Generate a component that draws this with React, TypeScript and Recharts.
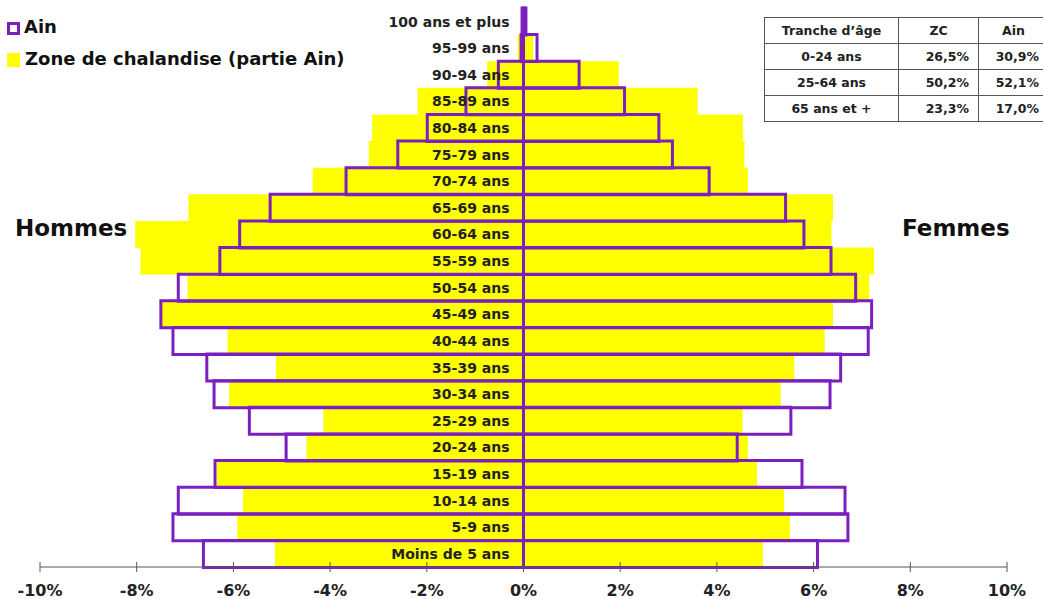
import React from 'react';
import { BarChart, Bar, XAxis, YAxis, LabelList } from 'recharts';

const ages = ['100 ans et plus', '95-99 ans', '90-94 ans', '85-89 ans', '80-84 ans', '75-79 ans', '70-74 ans', '65-69 ans', '60-64 ans', '55-59 ans', '50-54 ans', '45-49 ans', '40-44 ans', '35-39 ans', '30-34 ans', '25-29 ans', '20-24 ans', '15-19 ans', '10-14 ans', '5-9 ans', 'Moins de 5 ans'];
const zcMen = [0.03, 0.12, 0.75, 2.19, 3.13, 3.2, 4.36, 6.93, 8.03, 7.92, 6.95, 7.48, 6.12, 5.12, 6.09, 4.14, 4.49, 6.34, 5.8, 5.92, 5.14];
const zcWomen = [0.05, 0.2, 1.97, 3.6, 4.54, 4.57, 4.64, 6.4, 6.37, 7.25, 7.15, 6.4, 6.23, 5.6, 5.32, 4.53, 4.64, 4.83, 5.39, 5.51, 4.95];
const ainMen = [0.03, 0.05, 0.52, 1.19, 1.99, 2.6, 3.67, 5.24, 5.87, 6.28, 7.14, 7.5, 7.25, 6.55, 6.4, 5.67, 4.91, 6.38, 7.14, 7.25, 6.62];
const ainWomen = [0.05, 0.28, 1.15, 2.09, 2.8, 3.08, 3.84, 5.42, 5.8, 6.36, 6.87, 7.2, 7.13, 6.56, 6.34, 5.53, 4.42, 5.76, 6.65, 6.71, 6.08];
const xTicks = [-10, -8, -6, -4, -2, 0, 2, 4, 6, 8, 10];

const tableHeader = ['Tranche d\u2019âge', 'ZC', 'Ain'];
const tableGroups = ['0-24 ans', '25-64 ans', '65 ans et +'];
const tableZC = ['26,5%', '50,2%', '23,3%'];
const tableAin = ['30,9%', '52,1%', '17,0%'];

const data = ages.map((age, i) => ({
  age,
  zcM: -zcMen[i],
  zcF: zcWomen[i],
  ainM: -ainMen[i],
  ainF: ainWomen[i],
}));

const FONT = '"DejaVu Sans", Verdana, sans-serif';
const PURPLE = '#7b1fbe';
const YELLOW = '#ffff00';

const AxisTick = (props: any) => {
  const { x, y, payload } = props;
  return (
    <g>
      <line x1={x} x2={x} y1={y - 5} y2={y + 5} stroke="#555" strokeWidth={1} />
      <text x={x} y={y + 29} textAnchor="middle" fontFamily={FONT} fontWeight="bold" fontSize={16} fill="#222">
        {`${payload.value}%`}
      </text>
    </g>
  );
};

const AgeLabel = (props: any) => {
  const { x, y, height, value } = props;
  return (
    <text x={x - 14} y={y + height / 2} dy="0.36em" textAnchor="end" fontFamily={FONT} fontWeight="bold" fontSize={14} fill="#222">
      {value}
    </text>
  );
};

const cellBase: React.CSSProperties = {
  border: '1px solid #555',
  height: 25,
  padding: 0,
  fontFamily: FONT,
  fontWeight: 'bold',
  fontSize: 12.5,
  color: '#222',
};

export default function App() {
  return (
    <div style={{ position: 'absolute', left: 0, top: 0, width: 1043, height: 599, background: '#fff', overflow: 'hidden' }}>
      <BarChart
        width={1043}
        height={599}
        data={data}
        layout="vertical"
        stackOffset="sign"
        barCategoryGap={0}
        barGap={0}
        margin={{ top: 8, right: 36, bottom: 2, left: 40 }}
      >
        <XAxis
          type="number"
          domain={[-10, 10]}
          ticks={xTicks}
          allowDataOverflow
          height={30}
          tickSize={0}
          tickMargin={0}
          tickLine={false}
          axisLine={{ stroke: '#555', strokeWidth: 1 }}
          tick={<AxisTick />}
          interval={0}
        />
        <YAxis yAxisId="zc" type="category" dataKey="age" hide />
        <YAxis yAxisId="ain" type="category" dataKey="age" hide />
        <Bar dataKey="zcM" stackId="zc" yAxisId="zc" fill={YELLOW} isAnimationActive={false} />
        <Bar dataKey="zcF" stackId="zc" yAxisId="zc" fill={YELLOW} isAnimationActive={false} />
        <Bar dataKey="ainM" stackId="ain" yAxisId="ain" fill="none" stroke={PURPLE} strokeWidth={3} isAnimationActive={false} />
        <Bar dataKey="ainF" stackId="ain" yAxisId="ain" fill="none" stroke={PURPLE} strokeWidth={3} isAnimationActive={false}>
          <LabelList dataKey="age" content={<AgeLabel />} />
        </Bar>
      </BarChart>

      <div style={{ position: 'absolute', left: 7, top: 22, width: 13, height: 13, border: `3px solid ${PURPLE}`, boxSizing: 'border-box' }} />
      <div style={{ position: 'absolute', left: 24, top: 14, fontFamily: FONT, fontWeight: 'bold', fontSize: 18, color: '#111', lineHeight: '26px' }}>Ain</div>
      <div style={{ position: 'absolute', left: 7, top: 53, width: 13, height: 14, background: YELLOW }} />
      <div style={{ position: 'absolute', left: 25, top: 46, fontFamily: FONT, fontWeight: 'bold', fontSize: 18, color: '#111', lineHeight: '26px', whiteSpace: 'nowrap' }}>Zone de chalandise (partie Ain)</div>

      <div style={{ position: 'absolute', left: 15, top: 213, fontFamily: FONT, fontWeight: 'bold', fontSize: 23, color: '#111', lineHeight: '30px' }}>Hommes</div>
      <div style={{ position: 'absolute', left: 902, top: 213, fontFamily: FONT, fontWeight: 'bold', fontSize: 23, color: '#111', lineHeight: '30px' }}>Femmes</div>

      <table style={{ position: 'absolute', left: 764, top: 17, borderCollapse: 'collapse', background: '#fff', tableLayout: 'fixed', width: 284 }}>
        <colgroup>
          <col style={{ width: 134 }} />
          <col style={{ width: 80 }} />
          <col style={{ width: 70 }} />
        </colgroup>
        <tbody>
          <tr>
            {tableHeader.map((h) => (
              <td key={h} style={{ ...cellBase, textAlign: 'center' }}>{h}</td>
            ))}
          </tr>
          {tableGroups.map((g, i) => (
            <tr key={g}>
              <td style={{ ...cellBase, textAlign: 'center' }}>{g}</td>
              <td style={{ ...cellBase, textAlign: 'right', paddingRight: 9 }}>{tableZC[i]}</td>
              <td style={{ ...cellBase, textAlign: 'right', paddingRight: 9 }}>{tableAin[i]}</td>
            </tr>
          ))}
        </tbody>
      </table>
    </div>
  );
}
